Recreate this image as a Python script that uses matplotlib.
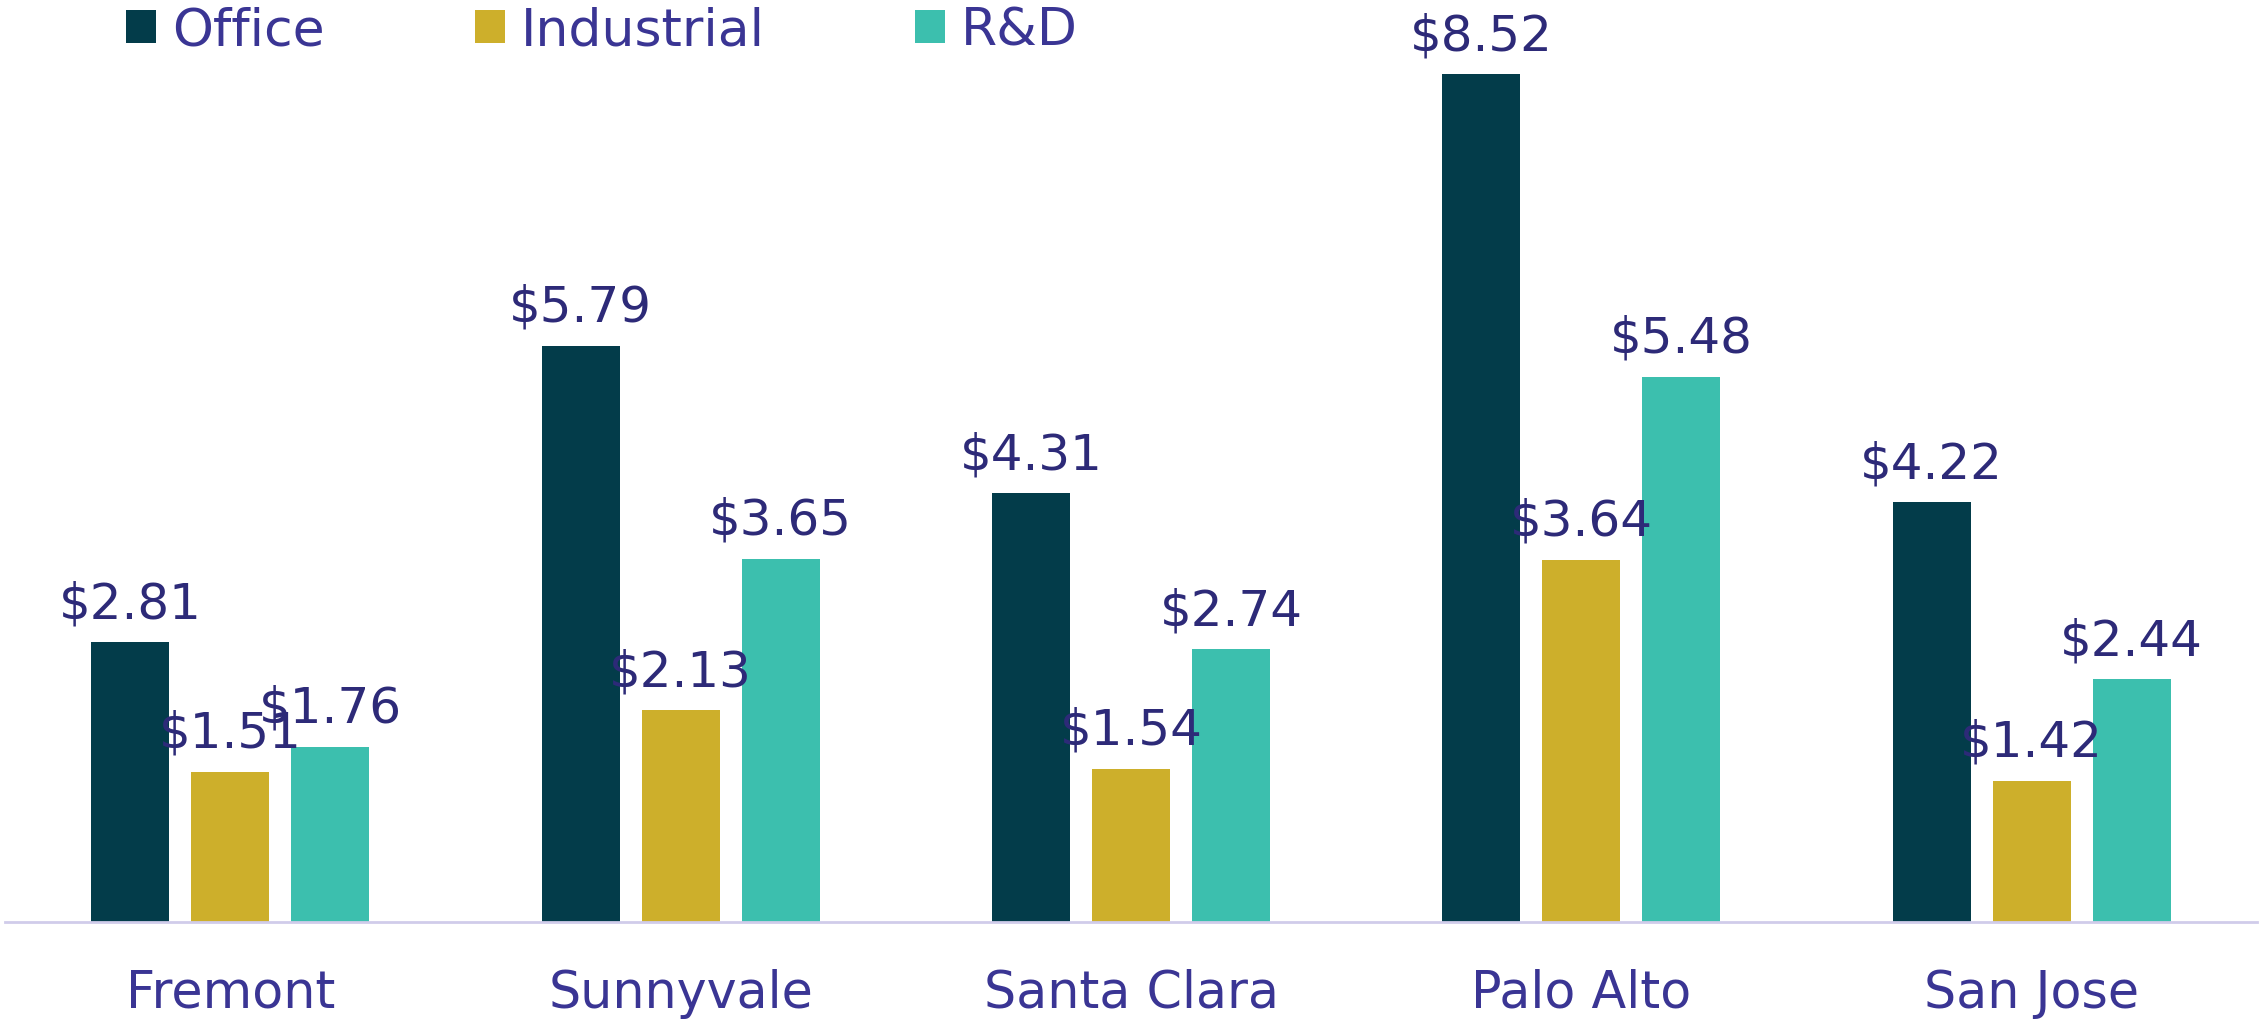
import matplotlib
matplotlib.use("Agg")
import matplotlib.pyplot as plt
from matplotlib.patches import Patch
import numpy as np

plt.rcParams['font.family'] = ['DejaVu Sans']

cities = ["Fremont", "Sunnyvale", "Santa Clara", "Palo Alto", "San Jose"]
series_names = ["Office", "Industrial", "R&D"]
office = [2.81, 5.79, 4.31, 8.52, 4.22]
industrial = [1.51, 2.13, 1.54, 3.64, 1.42]
rnd = [1.76, 3.65, 2.74, 5.48, 2.44]

colors = ["#033c4a", "#cdaf2b", "#3cbfae"]
label_color = "#2d2a78"
cat_color = "#3a3594"
axis_color = "#d0ccea"

W, H = 2261, 1020
fig = plt.figure(figsize=(W / 100, H / 100), dpi=100)
ax_bottom = (H - 923) / H
ax_height = 895.5 / H
ax = fig.add_axes([5 / W, ax_bottom, (2257 - 5) / W, ax_height])

x = np.arange(len(cities))
bar_w = 0.173
step = 0.222
all_series = [office, industrial, rnd]
for k, (vals, col) in enumerate(zip(all_series, colors)):
    pos = x + (k - 1) * step
    ax.bar(pos, vals, width=bar_w, color=col, edgecolor='none', zorder=2)
    for px, v in zip(pos, vals):
        ax.annotate(f"${v:.2f}", xy=(px, v), xytext=(0, 18), textcoords='offset points',
                    ha='center', va='baseline', fontsize=36, color=label_color,
                    annotation_clip=False, zorder=3)

for i, c in enumerate(cities):
    ax.annotate(c, xy=(i, 0), xytext=(0, -61.2), textcoords='offset points',
                ha='center', va='baseline', fontsize=36.5, color=cat_color,
                annotation_clip=False)

ax.set_xlim(-0.5, 4.5)
ax.set_ylim(0, 9.0)
for s in ['top', 'right', 'left']:
    ax.spines[s].set_visible(False)
ax.spines['bottom'].set_color(axis_color)
ax.spines['bottom'].set_linewidth(2)
ax.set_xticks([])
ax.set_yticks([])
ax.patch.set_alpha(0)

handles = [Patch(facecolor=c, edgecolor='none') for c in colors]
leg = fig.legend(handles, series_names, loc='upper left', bbox_to_anchor=(126 / W, 1.0 - 7 / H),
                 ncol=3, frameon=False, fontsize=37.5, handlelength=0.577, handleheight=0.577,
                 handletextpad=0.31, columnspacing=2.88, borderpad=0, borderaxespad=0)
for t in leg.get_texts():
    t.set_color(cat_color)

fig.savefig("out.png", dpi=100)
